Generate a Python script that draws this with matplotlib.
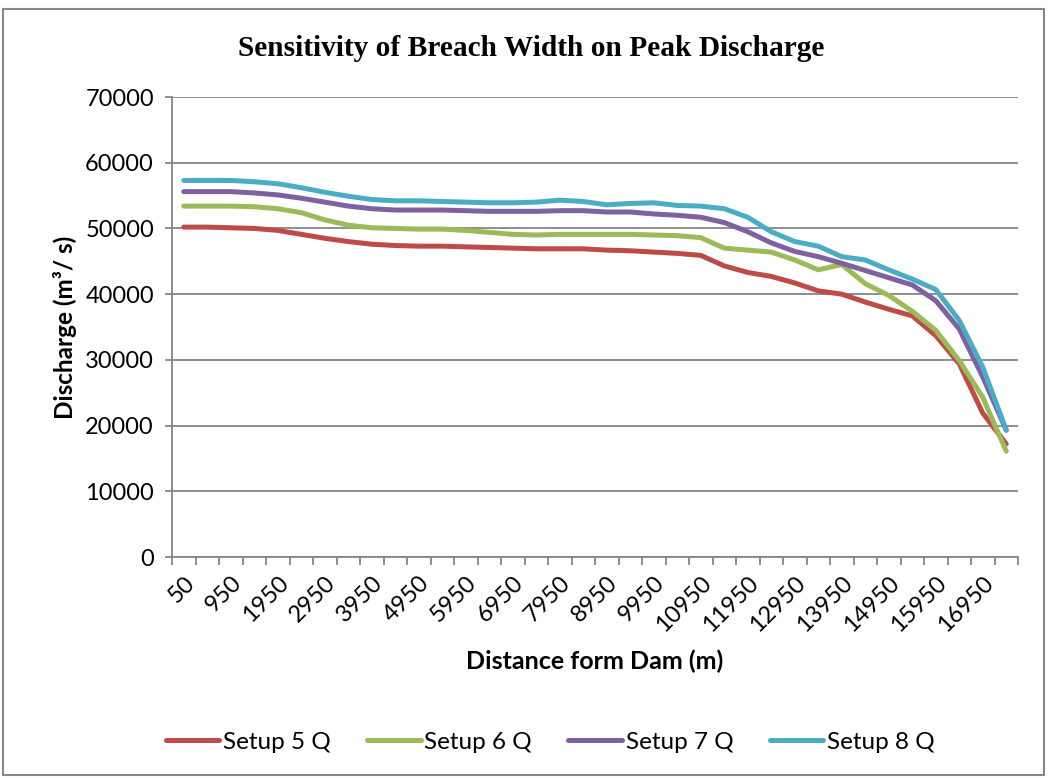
import matplotlib
matplotlib.use("Agg")
import matplotlib.pyplot as plt
from matplotlib.patches import Rectangle
from matplotlib.ticker import FixedLocator
import numpy as np

distances = [50, 500] + list(range(950, 17451, 500))

setup5 = [50200, 50200, 50100, 50000, 49700, 49100, 48500, 48000, 47600, 47400,
          47300, 47300, 47200, 47100, 47000, 46900, 46900, 46900, 46700, 46600,
          46400, 46200, 45900, 44300, 43300, 42700, 41700, 40500, 40000, 38800,
          37700, 36700, 33700, 29400, 21900, 17200]
setup6 = [53400, 53400, 53400, 53300, 53000, 52400, 51300, 50500, 50100, 50000,
          49900, 49900, 49700, 49400, 49100, 49000, 49100, 49100, 49100, 49100,
          49000, 48900, 48600, 47000, 46700, 46400, 45200, 43700, 44500, 41600,
          39800, 37400, 34500, 29900, 24300, 16100]
setup7 = [55600, 55600, 55600, 55400, 55100, 54600, 54000, 53400, 53000, 52800,
          52800, 52800, 52700, 52600, 52600, 52600, 52700, 52700, 52500, 52500,
          52200, 52000, 51700, 50900, 49500, 47800, 46500, 45700, 44700, 43600,
          42500, 41400, 39000, 34700, 27400, 19300]
setup8 = [57300, 57300, 57300, 57100, 56800, 56200, 55500, 54900, 54400, 54200,
          54200, 54100, 54000, 53900, 53900, 54000, 54300, 54100, 53600, 53800,
          53900, 53500, 53400, 53000, 51700, 49500, 48000, 47300, 45700, 45200,
          43700, 42300, 40700, 36000, 28900, 19300]

series_names = ["Setup 5 Q", "Setup 6 Q", "Setup 7 Q", "Setup 8 Q"]
colors = ["#BE4B48", "#9BBB59", "#7F60A0", "#4AACC5"]

plt.rcParams['font.family'] = ['Lato', 'DejaVu Sans']

fig = plt.figure(figsize=(10.48, 7.78), dpi=100)
ax = fig.add_axes([172/1048, 1-557/778, (1018-172)/1048, (557-97)/778])

x = np.arange(len(distances))
for data, name, c in zip([setup5, setup6, setup7, setup8], series_names, colors):
    ax.plot(x, data, color=c, lw=3.6, label=name, solid_capstyle='round', solid_joinstyle='round')

ax.set_xlim(-0.5, len(distances) - 0.5)
ax.set_ylim(0, 70000)
ax.set_yticks(np.arange(0, 70001, 10000))
ax.yaxis.grid(True, color='#868686', lw=1.3)
ax.set_axisbelow(True)

lab_idx = list(range(0, len(distances), 2))
ax.set_xticks(lab_idx)
ax.set_xticklabels([str(distances[i]) for i in lab_idx], rotation=45, ha='right',
                   va='top', rotation_mode='anchor', fontsize=17)
ax.tick_params(axis='x', which='major', length=0, pad=11)
ax.xaxis.set_minor_locator(FixedLocator(np.arange(-0.5, len(distances), 1.0)))
ax.tick_params(axis='x', which='minor', length=6, width=1.3, color='#868686', direction='out')
ax.tick_params(axis='y', length=5, width=1.3, color='#868686', labelsize=17, pad=8)

for s in ['top', 'right']:
    ax.spines[s].set_visible(False)
for s in ['left', 'bottom']:
    ax.spines[s].set_color('#868686')
    ax.spines[s].set_linewidth(1.3)

ax.set_xlabel("Distance form Dam (m)", fontsize=18, fontweight='bold', labelpad=10)
ax.set_ylabel("Discharge (m³/ s)", fontsize=17.5, fontweight='bold', labelpad=6)

fig.text(531/1048, 1-48/778, "Sensitivity of Breach Width on Peak Discharge",
         family=['Liberation Serif'], fontweight='bold', fontsize=21.2, ha='center', va='center')

fig.legend(loc='center', bbox_to_anchor=(0.525, 1-742/778), ncol=4, frameon=False,
           fontsize=17.5, handlelength=2.2, handletextpad=0.15, columnspacing=1.5)

fig.patches.append(Rectangle((3/1048, 3/778), 1041/1048, 766/778, transform=fig.transFigure,
                             fill=False, edgecolor='#868686', lw=1.5))

fig.savefig("out.png", dpi=100)
